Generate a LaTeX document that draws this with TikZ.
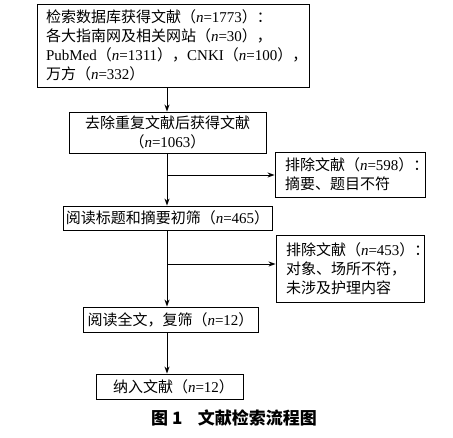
\documentclass[tikz,border=0pt]{standalone}
\usepackage{fontspec}
\setmainfont{Liberation Serif}
\newfontfamily\cjk{Noto Sans CJK SC}
\usetikzlibrary{arrows.meta}
\newcommand\zh[1]{{\cjk #1}}
\newcommand\nn{\textit{n}}
\begin{document}
\begin{tikzpicture}[x=1pt,y=-1pt,
  box/.style={draw, line width=0.9pt, inner ysep=0pt, inner xsep=0pt,
    font=\fontsize{15}{19}\selectfont},
  leftbox/.style={box, align=left, inner xsep=9pt},
  ctrbox/.style={box, align=center},
  arr/.style={line width=0.9pt, -{Stealth[length=7pt,width=5pt]}},
  capt/.style={font=\fontsize{17}{20}\selectfont\cjk\bfseries, inner sep=0pt}]
\useasboundingbox (0,0) rectangle (453,437);
\node[leftbox, text width=254pt, minimum height=83pt] (box1) at (173,45.5)
  {\zh{检索数据库获得文献（}\nn=1773\zh{）：}\\
   \zh{各大指南网及相关网站（}\nn=30\zh{），}\\
   PubMed\zh{（}\nn=1311\zh{），}CNKI\zh{（}\nn=100\zh{），}\\
   \zh{万方（}\nn=332\zh{）}};
\node[ctrbox, minimum width=197pt, minimum height=41pt] (box2) at (167.5,132.5)
  {\zh{去除重复文献后获得文献}\\\zh{（}\nn=1063\zh{）}};
\node[ctrbox, minimum width=209pt, minimum height=24pt] (box3) at (167.5,218)
  {\zh{阅读标题和摘要初筛（}\nn=465\zh{）}};
\node[leftbox, inner xsep=10pt, text width=130pt, minimum height=45pt] (box4) at (350,174.5)
  {\zh{排除文献（}\nn=598\zh{）：}\\\zh{摘要、题目不符}};
\node[leftbox, inner xsep=10pt, text width=128pt, minimum height=67pt] (box6) at (350,268.5)
  {\zh{排除文献（}\nn=453\zh{）：}\\\zh{对象、场所不符，}\\\zh{未涉及护理内容}};
\node[ctrbox, minimum width=175pt, minimum height=25pt] (box5) at (170.5,319.5)
  {\zh{阅读全文，复筛（}\nn=12\zh{）}};
\node[ctrbox, minimum width=147pt, minimum height=25pt] (box7) at (169.5,386.5)
  {\hspace{8pt}\zh{纳入文献（}\nn=12\zh{）}};
\node[capt] (cap) at (234,418) {图 1\hspace{0.9em}文献检索流程图};
\coordinate (spine) at (167,0);
\coordinate (b1) at (167,175);
\coordinate (b2) at (167,264);
\draw[arr] (box1.south -| spine) -- (box2.north -| spine);
\draw[arr] (box2.south -| spine) -- (box3.north -| spine);
\draw[arr] (b1) -- (b1 -| box4.west);
\draw[arr] (box3.south -| spine) -- (box5.north -| spine);
\draw[arr] (b2) -- (b2 -| box6.west);
\draw[arr] (box5.south -| spine) -- (box7.north -| spine);
\end{tikzpicture}
\end{document}
